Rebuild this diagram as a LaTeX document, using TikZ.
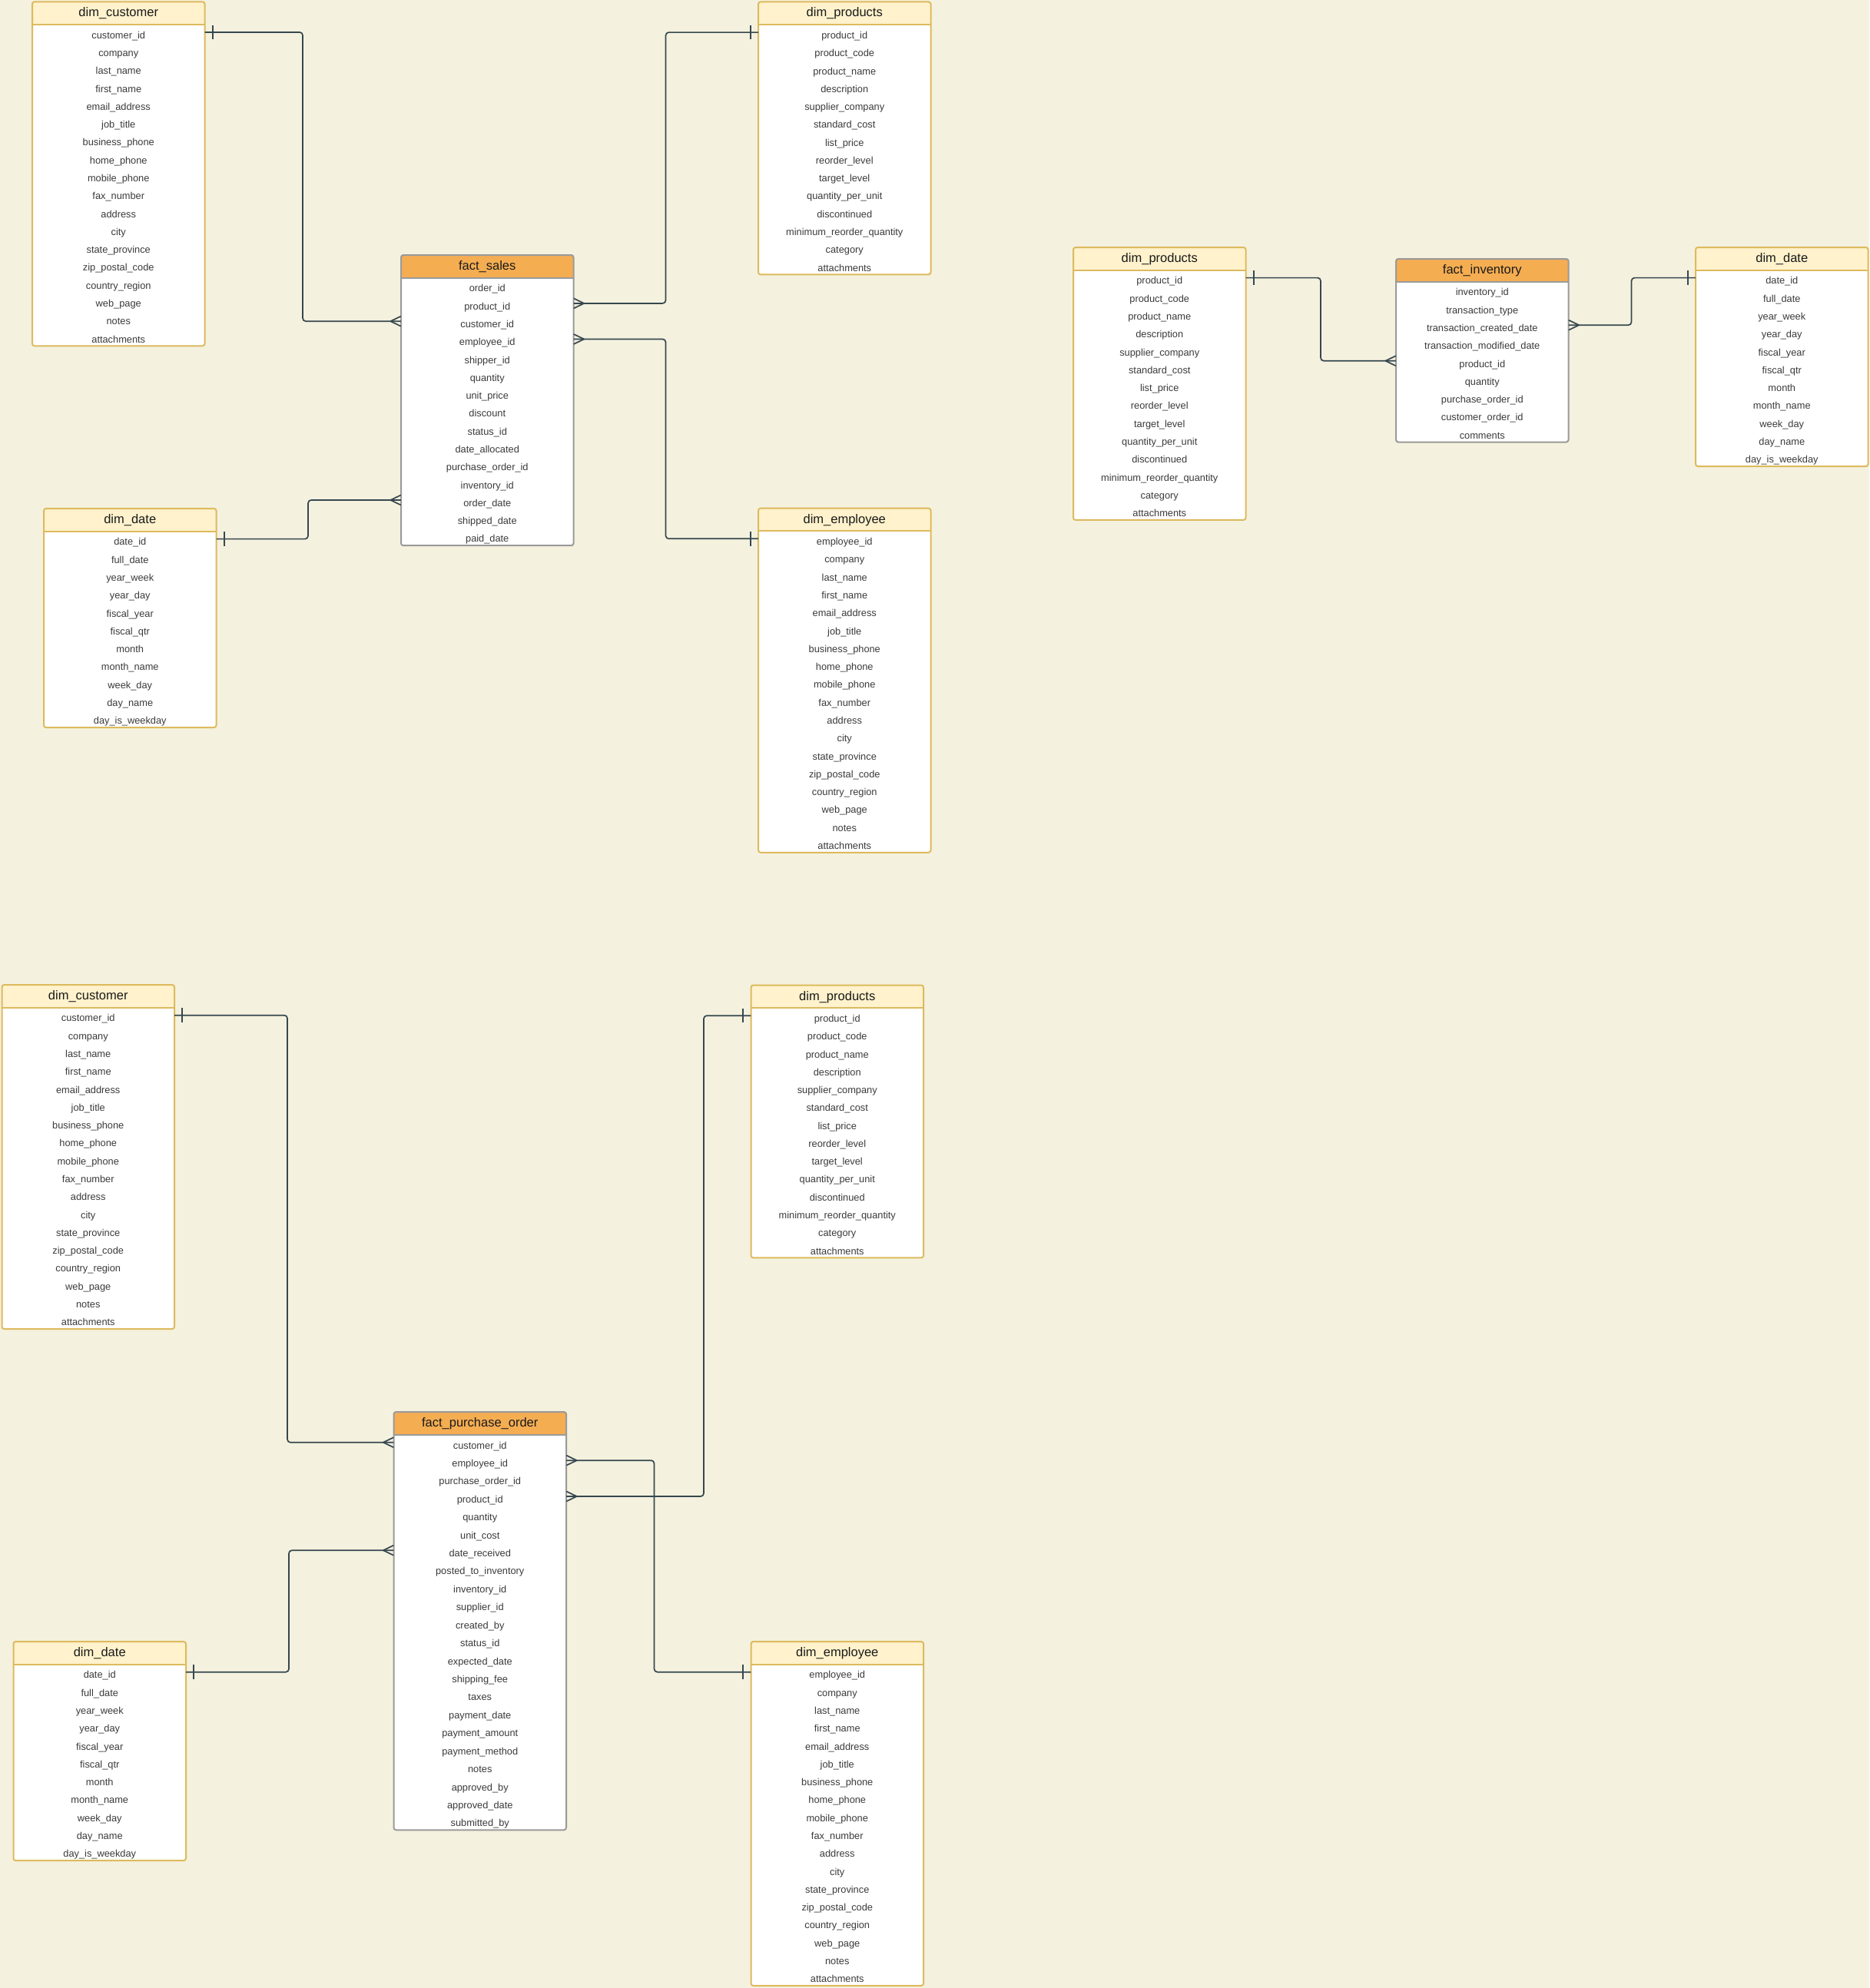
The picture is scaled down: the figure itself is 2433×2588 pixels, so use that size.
\documentclass[tikz,border=0pt]{standalone}
\usepackage{fontspec}
\setmainfont{Liberation Sans}
\usetikzlibrary{calc}

\definecolor{bgcol}{HTML}{F4F1DE}
\definecolor{dimfill}{HTML}{FFF2CC}
\definecolor{dimstroke}{HTML}{DDBA5E}
\definecolor{factfill}{HTML}{F5AD52}
\definecolor{factstroke}{HTML}{9A9A9A}
\definecolor{conncol}{HTML}{36474F}
\definecolor{fieldcol}{HTML}{3A3A3A}
\definecolor{headcol}{HTML}{1A1A1A}

\tikzset{
  dimhead/.style={fill=dimfill},
  dimline/.style={draw=dimstroke, line width=2pt},
  facthead/.style={fill=factfill},
  factline/.style={draw=factstroke, line width=2pt},
  hdtext/.style={inner sep=0pt, text=headcol, font=\fontsize{16.5}{19}\selectfont, text height=13pt, text depth=3.5pt},
  fieldtext/.style={inner sep=0pt, text=fieldcol, font=\fontsize{12.8}{15}\selectfont, minimum width=224.5pt, minimum height=23pt, text height=19.3pt, text depth=2.7pt},
  conn/.style={draw=conncol, line width=1.7pt},
  connpath/.style={conn, rounded corners=4pt},
}

\def\erpitch{23.28}
% #1 name, #2 left, #3 top, #4 kind (dim/fact), #5 title, #6 fields
\newcommand{\ertable}[6]{%
  \foreach \f [count=\i] in {#6} {\xdef\ercount{\i}}%
  \pgfmathsetmacro\erH{29+\erpitch*\ercount}%
  \fill[white, rounded corners=3pt] (#2,#3) rectangle ++(224.5,\erH);
  \begin{scope}
    \clip[rounded corners=3pt] (#2,#3) rectangle ++(224.5,\erH);
    \fill[#4head] (#2,#3) rectangle ++(224.5,29.5);
  \end{scope}
  \draw[#4line] (#2,#3+29.5) -- ++(224.5,0);
  \draw[#4line, rounded corners=3pt] (#2,#3) rectangle ++(224.5,\erH);
  \node[hdtext] (#1) at (#2+112.25,#3+14.75) {#5};
  \foreach \f [count=\i] in {#6} {
    \node[fieldtext] (#1-\i) at (#2+112.25,#3+28+\erpitch*\i-\erpitch/2) {\f};
  }%
}

\newcommand{\onemk}[2]{\draw[conn] ($(#1)+(#2*10,-9.3)$) -- ($(#1)+(#2*10,9.3)$);}
\newcommand{\manymk}[2]{\draw[conn] ($(#1)+(#2*13.5,0)$) -- ($(#1)+(0,-6.5)$) ($(#1)+(#2*13.5,0)$) -- ($(#1)+(0,6.5)$);}

\begin{document}
\begin{tikzpicture}[x=1pt,y=-1pt]
\useasboundingbox (0,0) rectangle (2433,2588);
\fill[bgcol] (0,0) rectangle (2433,2588);

% ---------- top group: fact_sales ----------
\ertable{c1}{42}{2.3}{dim}{dim\_customer}{customer\_id,company,last\_name,first\_name,email\_address,job\_title,business\_phone,home\_phone,mobile\_phone,fax\_number,address,city,state\_province,zip\_postal\_code,country\_region,web\_page,notes,attachments}
\ertable{p1}{987}{2.5}{dim}{dim\_products}{product\_id,product\_code,product\_name,description,supplier\_company,standard\_cost,list\_price,reorder\_level,target\_level,quantity\_per\_unit,discontinued,minimum\_reorder\_quantity,category,attachments}
\ertable{s}{522}{332}{fact}{fact\_sales}{order\_id,product\_id,customer\_id,employee\_id,shipper\_id,quantity,unit\_price,discount,status\_id,date\_allocated,purchase\_order\_id,inventory\_id,order\_date,shipped\_date,paid\_date}
\ertable{d1}{57}{662}{dim}{dim\_date}{date\_id,full\_date,year\_week,year\_day,fiscal\_year,fiscal\_qtr,month,month\_name,week\_day,day\_name,day\_is\_weekday}
\ertable{e1}{987}{661.7}{dim}{dim\_employee}{employee\_id,company,last\_name,first\_name,email\_address,job\_title,business\_phone,home\_phone,mobile\_phone,fax\_number,address,city,state\_province,zip\_postal\_code,country\_region,web\_page,notes,attachments}

% ---------- inventory group ----------
\ertable{p2}{1397}{322}{dim}{dim\_products}{product\_id,product\_code,product\_name,description,supplier\_company,standard\_cost,list\_price,reorder\_level,target\_level,quantity\_per\_unit,discontinued,minimum\_reorder\_quantity,category,attachments}
\ertable{fi}{1817}{337}{fact}{fact\_inventory}{inventory\_id,transaction\_type,transaction\_created\_date,transaction\_modified\_date,product\_id,quantity,purchase\_order\_id,customer\_order\_id,comments}
\ertable{d2}{2207}{322}{dim}{dim\_date}{date\_id,full\_date,year\_week,year\_day,fiscal\_year,fiscal\_qtr,month,month\_name,week\_day,day\_name,day\_is\_weekday}

% ---------- bottom group: fact_purchase_order ----------
\ertable{c3}{2.5}{1282}{dim}{dim\_customer}{customer\_id,company,last\_name,first\_name,email\_address,job\_title,business\_phone,home\_phone,mobile\_phone,fax\_number,address,city,state\_province,zip\_postal\_code,country\_region,web\_page,notes,attachments}
\ertable{p3}{977.5}{1282.5}{dim}{dim\_products}{product\_id,product\_code,product\_name,description,supplier\_company,standard\_cost,list\_price,reorder\_level,target\_level,quantity\_per\_unit,discontinued,minimum\_reorder\_quantity,category,attachments}
\def\erpitch{23.42}
\ertable{po}{512.5}{1838}{fact}{fact\_purchase\_order}{customer\_id,employee\_id,purchase\_order\_id,product\_id,quantity,unit\_cost,date\_received,posted\_to\_inventory,inventory\_id,supplier\_id,created\_by,status\_id,expected\_date,shipping\_fee,taxes,payment\_date,payment\_amount,payment\_method,notes,approved\_by,approved\_date,submitted\_by}
\def\erpitch{23.28}
\ertable{d3}{17.5}{2137}{dim}{dim\_date}{date\_id,full\_date,year\_week,year\_day,fiscal\_year,fiscal\_qtr,month,month\_name,week\_day,day\_name,day\_is\_weekday}
\ertable{e3}{977.5}{2137}{dim}{dim\_employee}{employee\_id,company,last\_name,first\_name,email\_address,job\_title,business\_phone,home\_phone,mobile\_phone,fax\_number,address,city,state\_province,zip\_postal\_code,country\_region,web\_page,notes,attachments}

% ---------- routing columns ----------
\coordinate (v1) at (394,0);
\coordinate (v2) at (866.5,0);
\coordinate (v3) at (401,0);
\coordinate (v4) at (1719,0);
\coordinate (v5) at (2123.5,0);
\coordinate (v6) at (374,0);
\coordinate (v7) at (376,0);
\coordinate (v8) at (851.5,0);
\coordinate (v9) at (916,0);

% ---------- connectors: top ----------
\draw[connpath] (c1-1.east) -- (c1-1.east -| v1) |- (s-3.west);
\onemk{c1-1.east}{1} \manymk{s-3.west}{-1}
\draw[connpath] (s-2.east) -- (s-2.east -| v2) |- (p1-1.west);
\manymk{s-2.east}{1} \onemk{p1-1.west}{-1}
\draw[connpath] (s-4.east) -- (s-4.east -| v2) |- (e1-1.west);
\manymk{s-4.east}{1} \onemk{e1-1.west}{-1}
\draw[connpath] (d1-1.east) -- (d1-1.east -| v3) |- (s-13.west);
\onemk{d1-1.east}{1} \manymk{s-13.west}{-1}

% ---------- connectors: inventory ----------
\draw[connpath] (p2-1.east) -- (p2-1.east -| v4) |- (fi-5.west);
\onemk{p2-1.east}{1} \manymk{fi-5.west}{-1}
\draw[connpath] (fi-3.east) -- (fi-3.east -| v5) |- (d2-1.west);
\manymk{fi-3.east}{1} \onemk{d2-1.west}{-1}

% ---------- connectors: bottom ----------
\draw[connpath] (c3-1.east) -- (c3-1.east -| v6) |- (po-1.west);
\onemk{c3-1.east}{1} \manymk{po-1.west}{-1}
\draw[connpath] (d3-1.east) -- (d3-1.east -| v7) |- (po-7.west);
\onemk{d3-1.east}{1} \manymk{po-7.west}{-1}
\draw[connpath] (po-2.east) -- (po-2.east -| v8) |- (e3-1.west);
\manymk{po-2.east}{1} \onemk{e3-1.west}{-1}
\draw[connpath] (po-4.east) -- (po-4.east -| v9) |- (p3-1.west);
\manymk{po-4.east}{1} \onemk{p3-1.west}{-1}

\end{tikzpicture}
\end{document}
